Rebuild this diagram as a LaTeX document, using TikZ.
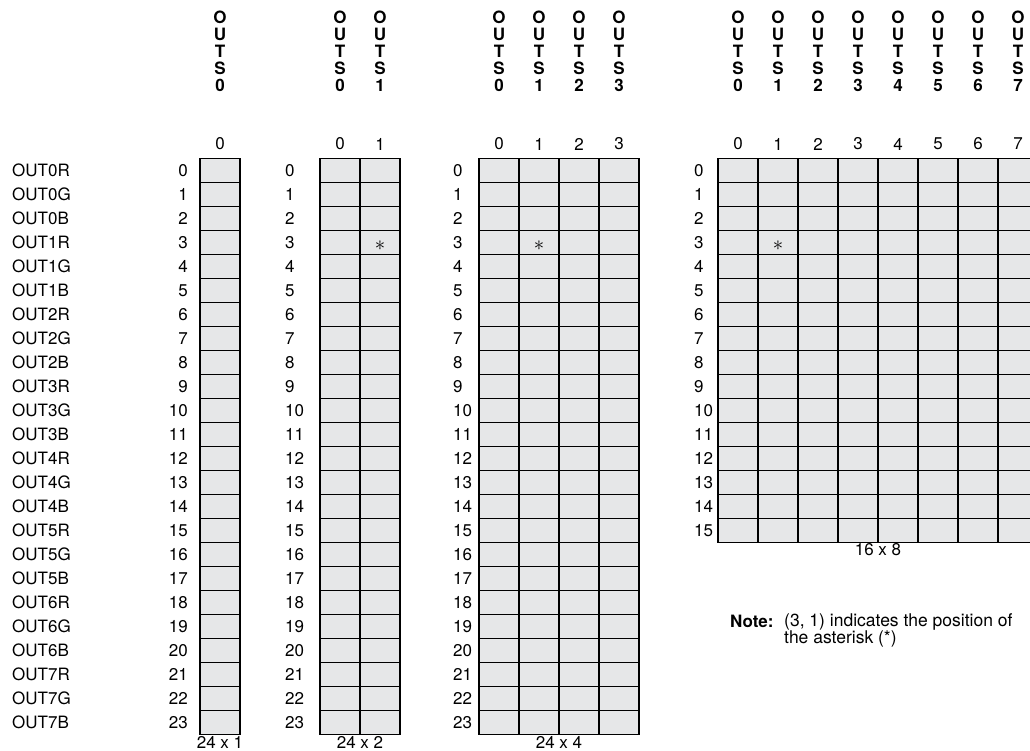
\documentclass[tikz,border=0pt]{standalone}
\usepackage{fontspec}
\setmainfont{TeX Gyre Heros}
\definecolor{cellgray}{HTML}{E6E7E8}

% one block of register cells: name, left edge, last row, last column
\newcommand{\regmap}[4]{%
  \foreach \r in {0,...,#3}
    \foreach \c in {0,...,#4}
      \node[cell] (#1-\r-\c) at (#2+40*\c+20, 170.5+24*\r) {};
  \foreach \c in {0,...,#4}{
    \node (#1-col\c) at (#2+40*\c+20, 144) {\c};
    \node[head] (#1-hd\c) at (#2+40*\c+20, 11) {O\\U\\T\\S\\\c};
  }
}

\begin{document}
\begin{tikzpicture}[x=1pt, y=-1pt, font=\fontsize{17}{17}\selectfont,
  cell/.style={draw, line width=1.1pt, fill=cellgray, minimum width=40pt,
    minimum height=24pt, inner sep=0pt},
  head/.style={font=\fontsize{17}{17}\selectfont\bfseries, align=center,
    anchor=north, inner sep=0pt},
  star/.style={font=\fontsize{22}{22}\selectfont, inner sep=0pt}]
  \useasboundingbox (0,0) rectangle (1030,750);

  \regmap{ga}{200}{23}{0}
  \regmap{gb}{320}{23}{1}
  \regmap{gc}{479}{23}{3}
  \regmap{gd}{718}{15}{7}

  % channel names and row numbers
  \foreach \r [evaluate=\r as \k using int(\r/3),
               evaluate=\r as \m using int(\r-3*\k)] in {0,...,23}{
    \node[anchor=west, inner sep=0pt] (ch\r) at (12, 170.5+24*\r)
      {OUT\k\ifcase\m R\or G\or B\fi};
    \node[anchor=east, inner sep=0pt] (ga-row\r) at (188, 170.5+24*\r) {\r};
    \node[anchor=west, inner sep=0pt] (gb-row\r) at (285, 170.5+24*\r) {\r};
    \node[anchor=west, inner sep=0pt] (gc-row\r) at (453, 170.5+24*\r) {\r};
  }
  \foreach \r in {0,...,15}
    \node[anchor=west, inner sep=0pt] (gd-row\r) at (694, 170.5+24*\r) {\r};

  % asterisk at (3, 1)
  \node[star] (gb-star) at ([yshift=-3pt]gb-3-1) {$\ast$};
  \node[star] (gc-star) at ([yshift=-3pt]gc-3-1) {$\ast$};
  \node[star] (gd-star) at ([yshift=-3pt]gd-3-1) {$\ast$};

  \node (ga-size) at (220, 742) {24 x 1};
  \node (gb-size) at (360, 742) {24 x 2};
  \node (gc-size) at (559, 742) {24 x 4};
  \node (gd-size) at (878, 550) {16 x 8};

  \node[anchor=west, inner sep=0pt, font=\fontsize{17}{14}\selectfont\bfseries] (note) at (730, 621) {Note:};
  \node[anchor=north west, inner sep=0pt, align=left, font=\fontsize{17.5}{14}\selectfont]
    (notetext) at (784, 613) {(3, 1) indicates the position of\\the asterisk (*)};
\end{tikzpicture}
\end{document}
